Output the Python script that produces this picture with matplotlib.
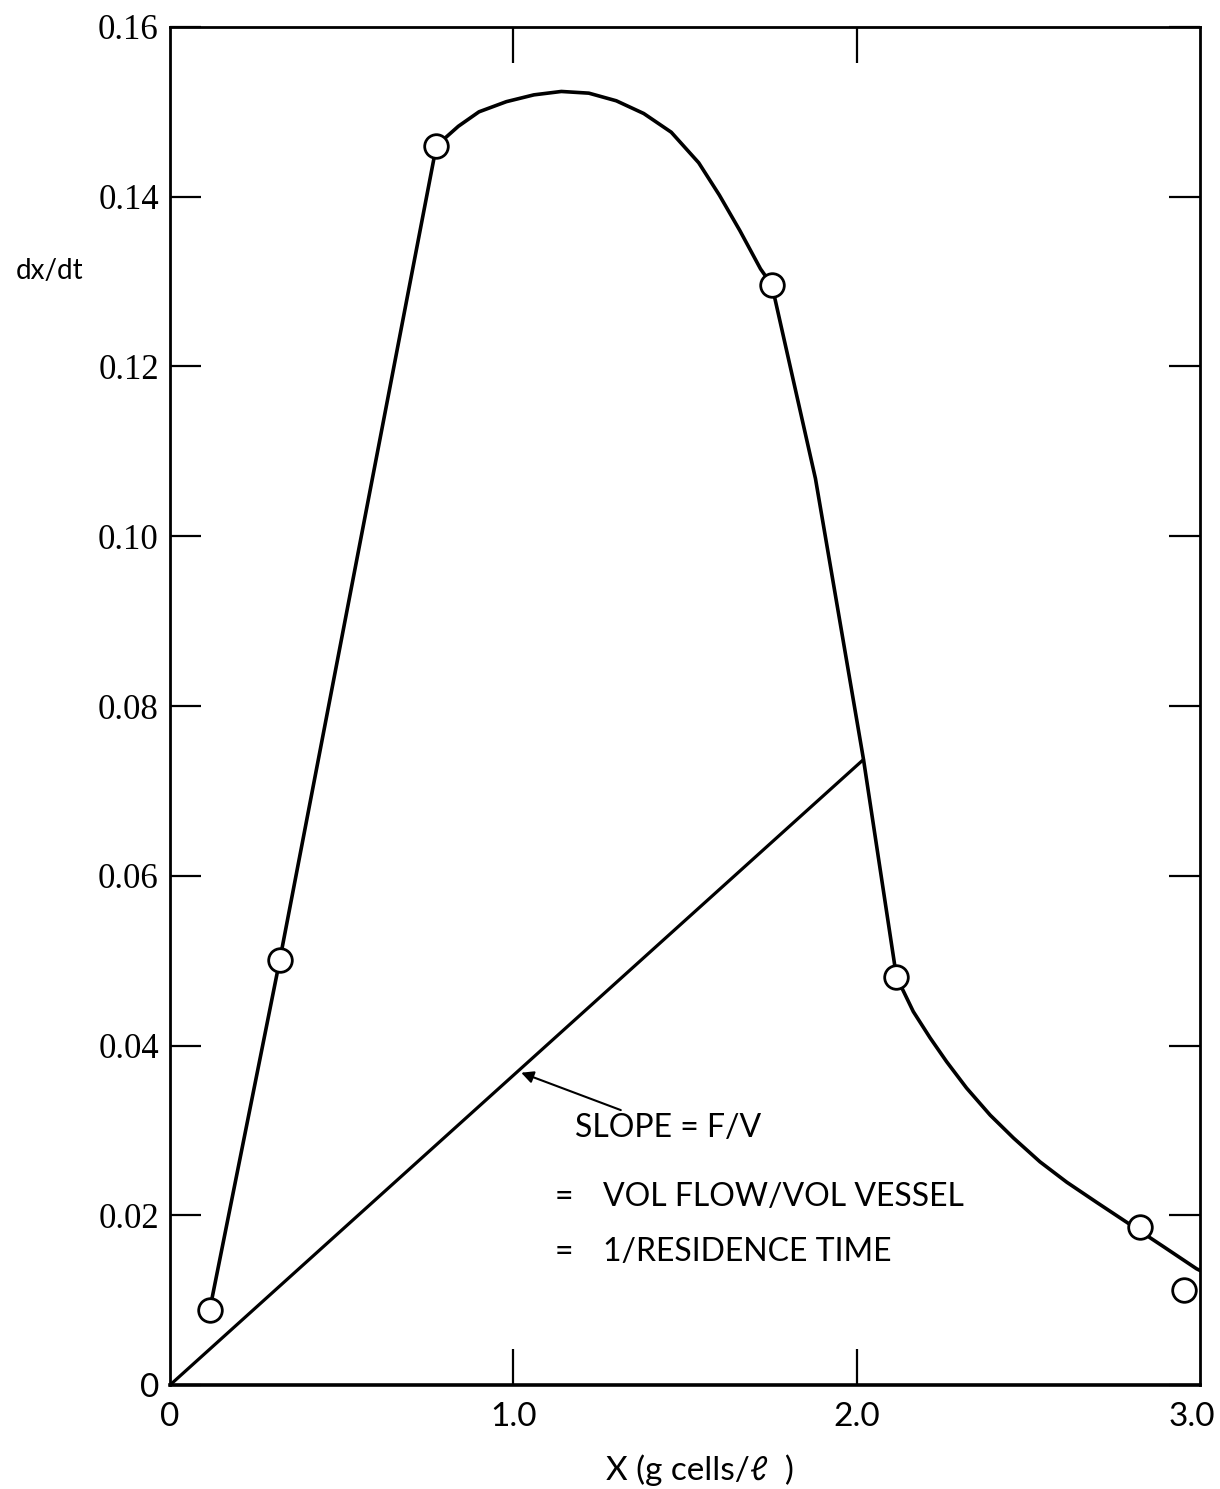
import matplotlib
matplotlib.use("Agg")
import matplotlib.pyplot as plt
from matplotlib.transforms import ScaledTranslation

# measured points (open circles)
point_x = [0.116, 0.32, 0.776, 1.753, 2.116, 2.826, 2.953]
point_y = [0.0089, 0.0501, 0.146, 0.1296, 0.0481, 0.0186, 0.0112]

# hand drawn curve through the points
curve_x = [0.116, 0.32, 0.776, 0.84, 0.90, 0.98, 1.06, 1.14, 1.22, 1.30, 1.38, 1.46,
           1.54, 1.60, 1.66, 1.72, 1.753, 1.88, 2.02, 2.116, 2.165, 2.214, 2.262,
           2.320, 2.389, 2.457, 2.534, 2.612, 2.700, 2.797, 2.894, 2.99, 3.0]
curve_y = [0.0089, 0.0501, 0.146, 0.1483, 0.1500, 0.1512, 0.1520, 0.1524, 0.1522,
           0.1513, 0.1498, 0.1476, 0.1440, 0.1402, 0.1360, 0.1315, 0.1296, 0.1068,
           0.0737, 0.0481, 0.0440, 0.0409, 0.0381, 0.0350, 0.0318, 0.0291, 0.0263,
           0.0239, 0.0215, 0.0189, 0.0163, 0.0137, 0.0135]

# straight line through origin, slope = F/V
slope_x = [0.0, 2.02]
slope_y = [0.0, 0.0737]

y_ticks = [0, 0.02, 0.04, 0.06, 0.08, 0.10, 0.12, 0.14, 0.16]
y_labels = ["0", "0.02", "0.04", "0.06", "0.08", "0.10", "0.12", "0.14", "0.16"]
x_labels = ["0", "1.0", "2.0", "3.0"]

SANS = "Lato"
SERIF = "Liberation Serif"

fig = plt.figure(figsize=(12.2, 14.89), dpi=100)
ax = fig.add_axes([0.1393, 0.0698, 0.8443, 0.9121])

ax.plot(slope_x, slope_y, color="black", lw=2.3, zorder=2, solid_capstyle="round")
ax.plot(curve_x, curve_y, color="black", lw=2.6, zorder=3,
        solid_joinstyle="round", solid_capstyle="round")
ax.plot(point_x, point_y, "o", ms=17, mfc="white", mec="black", mew=2.0, zorder=4, clip_on=False)

ax.set_xlim(0, 3.0)
ax.set_ylim(0, 0.16)

for s in ax.spines.values():
    s.set_linewidth(2.0)
ax.spines["bottom"].set_linewidth(2.6)

# y ticks on both sides, inward
ax.set_yticks(y_ticks)
ax.set_yticklabels(y_labels, fontfamily=SERIF, fontsize=25)
ax.tick_params(axis="y", which="major", direction="in", length=22, width=1.6,
               left=True, right=True, pad=8)
ylabs = ax.get_yticklabels()
ylabs[0].set_fontfamily(SANS)
ylabs[0].set_fontsize(24)

# x ticks only at 1.0 and 2.0, labels at 0..3
ax.set_xticks([1.0, 2.0])
ax.set_xticks([0.0, 3.0], minor=True)
ax.tick_params(axis="x", which="major", direction="in", length=26, width=1.6,
               top=True, bottom=True, labelsize=24, pad=12)
ax.tick_params(axis="x", which="minor", length=0, labelsize=24, pad=12)
ax.set_xticklabels(x_labels[1:3], fontfamily=SANS)
ax.set_xticklabels([x_labels[0], x_labels[3]], minor=True, fontfamily=SANS)
last = ax.get_xticklabels(minor=True)[1]
last.set_transform(last.get_transform() + ScaledTranslation(-8 / 100, 0, fig.dpi_scale_trans))

fig.text(0.574, 0.0128, "X (g cells/\u2113  )", fontfamily=SANS, fontsize=24,
         ha="center", va="center")
fig.text(0.041, 0.818, "dx/dt", fontfamily=SANS, fontsize=20, ha="center", va="center")

ax.annotate("SLOPE = F/V", xy=(1.023, 0.0368), xytext=(1.18, 0.0303),
            fontfamily=SANS, fontsize=23, va="center", ha="left",
            arrowprops=dict(arrowstyle="-|>", color="black", lw=1.5,
                            mutation_scale=18, shrinkA=0, shrinkB=0))

ax.text(1.148, 0.0222, "=", fontfamily=SANS, fontsize=23, va="center", ha="center")
ax.text(1.262, 0.0222, "VOL FLOW/VOL VESSEL", fontfamily=SANS, fontsize=23, va="center", ha="left")
ax.text(1.148, 0.0157, "=", fontfamily=SANS, fontsize=23, va="center", ha="center")
ax.text(1.262, 0.0157, "1/RESIDENCE TIME", fontfamily=SANS, fontsize=23, va="center", ha="left")

fig.savefig("out.png", dpi=100)
